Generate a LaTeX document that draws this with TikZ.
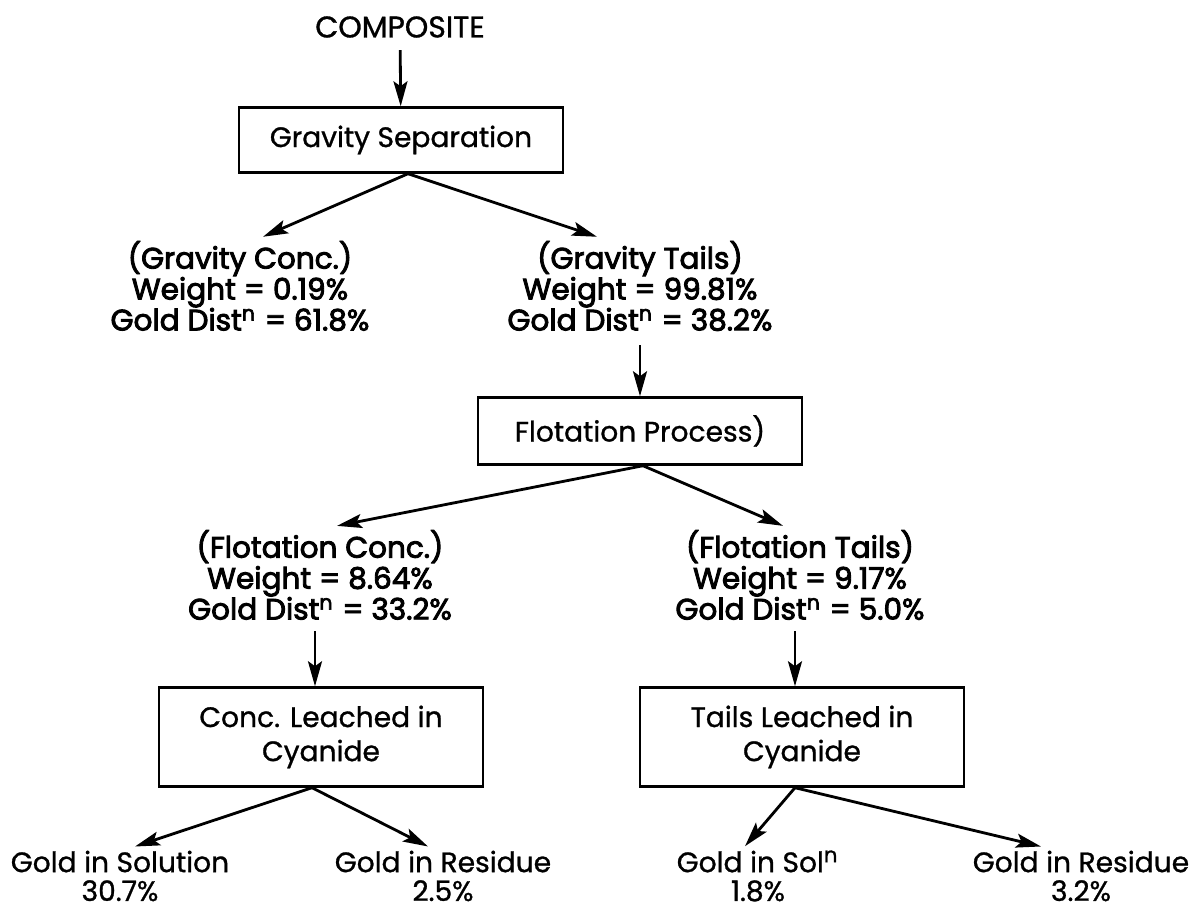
\documentclass[tikz,border=0pt]{standalone}
\usepackage{fontspec}
\setmainfont{Poppins}
\newfontfamily\plainfont[FakeBold=1]{Poppins}
\newfontfamily\heavyfont[FakeBold=3]{Poppins}
\newcommand\tightlines{\setlength\lineskiplimit{-10pt}\relax}
\usetikzlibrary{positioning,arrows.meta}

\tikzset{
  stage/.style={draw, line width=0.7pt, minimum width=3.24cm, minimum height=0.65cm,
    align=center, font=\fontsize{8}{9.7}\selectfont\plainfont},
  stream/.style={align=center, inner sep=1pt,
    font=\fontsize{8.4}{8.8}\selectfont\heavyfont\tightlines},
  product/.style={align=center, inner sep=1pt,
    font=\fontsize{8}{8.2}\selectfont\plainfont\tightlines},
  flow/.style={-{Stealth[length=2.5mm,width=1.4mm,inset=0.5mm]}, line width=0.8pt},
}

\begin{document}
\begin{tikzpicture}
  \useasboundingbox (0,0) rectangle (11.91,-9.07);

  % gravity circuit
  \node[font=\fontsize{8.5}{9}\selectfont\plainfont] (comp) at (4.00,-0.27) {COMPOSITE};
  \node[stage] (gsep) at (4.01,-1.40) {Gravity Separation};
  \node[stream] (gconc) at (2.40,-2.86) {(Gravity Conc.)\\Weight = 0.19\%\\Gold Dist\textsuperscript{n} = 61.8\%};
  \node[stream] (gtail) at (6.40,-2.86) {(Gravity Tails)\\Weight = 99.81\%\\Gold Dist\textsuperscript{n} = 38.2\%};

  % flotation of the gravity tails
  \node[stage, minimum height=0.67cm] (flot) at (6.40,-4.31) {Flotation Process)};
  \node[stream] (fconc) at (3.20,-5.75) {(Flotation Conc.)\\Weight = 8.64\%\\Gold Dist\textsuperscript{n} = 33.2\%};
  \node[stream] (ftail) at (8.00,-5.75) {(Flotation Tails)\\Weight = 9.17\%\\Gold Dist\textsuperscript{n} = 5.0\%};

  % cyanide leach
  \node[stage, minimum height=0.99cm] (cleach) at (3.21,-7.37) {Conc. Leached in\\Cyanide};
  \node[stage, minimum height=0.99cm] (tleach) at (8.02,-7.37) {Tails Leached in\\Cyanide};
  \node[product] (gsol) at (1.20,-8.76) {Gold in Solution\\30.7\%};
  \node[product] (gres) at (4.43,-8.76) {Gold in Residue\\2.5\%};
  \node[product] (tsol) at (7.58,-8.76) {Gold in Sol\textsuperscript{n}\\1.8\%};
  \node[product] (tres) at (10.81,-8.76) {Gold in Residue\\3.2\%};

  \draw[flow] (comp) -- (gsep);
  \draw[flow] ([xshift=0.7mm]gsep.south) -- ([xshift=2.3mm]gconc.north);
  \draw[flow] ([xshift=0.7mm]gsep.south) -- ([xshift=-4.3mm]gtail.north);
  \draw[flow] ([yshift=-1mm]gtail.south) -- (flot);
  \draw[flow] ([xshift=0.3mm]flot.south) -- ([xshift=1.7mm]fconc.north);
  \draw[flow] ([xshift=0.3mm]flot.south) -- ([xshift=-1.7mm]ftail.north);
  \draw[flow] ([xshift=-0.5mm,yshift=-0.7mm]fconc.south) -- ([xshift=-0.5mm]fconc.south |- cleach.north);
  \draw[flow] ([xshift=-0.5mm,yshift=-0.7mm]ftail.south) -- ([xshift=-0.5mm]ftail.south |- tleach.north);
  \draw[flow] ([xshift=-0.9mm]cleach.south) -- ([xshift=1.5mm]gsol.north);
  \draw[flow] ([xshift=-0.9mm]cleach.south) -- ([xshift=-1.5mm]gres.north);
  \draw[flow] ([xshift=-0.7mm]tleach.south) -- ([xshift=-1.3mm]tsol.north);
  \draw[flow] ([xshift=-0.7mm]tleach.south) -- ([xshift=-4mm]tres.north);
\end{tikzpicture}
\end{document}
